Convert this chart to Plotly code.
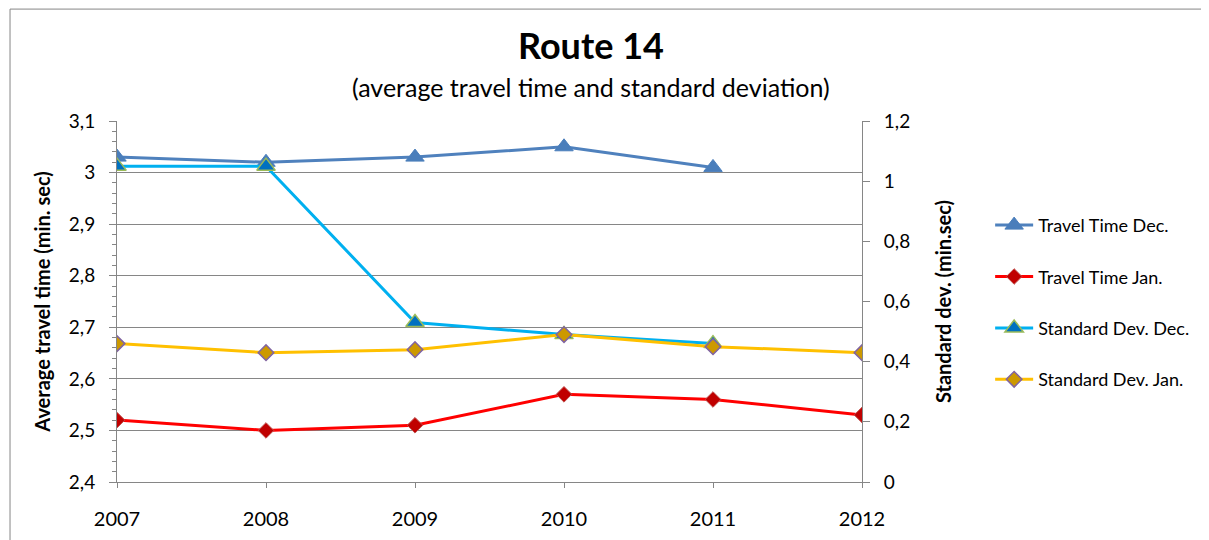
import plotly.graph_objects as go

years = [2007, 2008, 2009, 2010, 2011, 2012]
travel_dec = [3.03, 3.02, 3.03, 3.05, 3.01, None]
travel_jan = [2.52, 2.50, 2.51, 2.57, 2.56, 2.53]
std_dec = [1.05, 1.05, 0.53, 0.49, 0.46, None]
std_jan = [0.46, 0.43, 0.44, 0.49, 0.45, 0.43]

FONT = "Lato"
GRAY = "#868686"

fig = go.Figure()

fig.add_trace(go.Scatter(
    x=years, y=travel_dec, name="Travel Time Dec.", mode="lines+markers",
    line=dict(color="#4F81BD", width=3),
    marker=dict(symbol="triangle-up", size=16, color="#4A7EBB", line=dict(color="#4A7EBB", width=1)),
    legendgroup="a", yaxis="y"))
fig.add_trace(go.Scatter(
    x=years, y=travel_jan, name="Travel Time Jan.", mode="lines+markers",
    line=dict(color="#FF0000", width=3),
    marker=dict(symbol="diamond", size=12, color="#C00000", line=dict(color="#C0504D", width=1)),
    legendgroup="b", yaxis="y"))
fig.add_trace(go.Scatter(
    x=years, y=std_dec, name="Standard Dev. Dec.", mode="lines+markers",
    line=dict(color="#00B0F0", width=3),
    marker=dict(symbol="triangle-up", size=16, color="#0070C0", line=dict(color="#9BBB59", width=1.5)),
    legendgroup="c", yaxis="y2"))
fig.add_trace(go.Scatter(
    x=years, y=std_jan, name="Standard Dev. Jan.", mode="lines+markers",
    line=dict(color="#FFC000", width=3),
    marker=dict(symbol="diamond", size=12, color="#CC9900", line=dict(color="#8064A2", width=1.5)),
    legendgroup="d", yaxis="y2"))

fig.update_layout(
    width=1209, height=540,
    margin=dict(l=109, r=355, t=113, b=66),
    paper_bgcolor="white", plot_bgcolor="white",
    separators=", ",
    font=dict(family=FONT, size=19, color="black"),
    showlegend=True,
    legend=dict(x=1.172, y=0.762, xanchor="left", yanchor="top",
                font=dict(family=FONT, size=18, color="black"),
                itemwidth=38,
                tracegroupgap=25, bgcolor="rgba(0,0,0,0)"),
    xaxis=dict(range=[2007, 2012], tickvals=years, ticktext=[str(y) for y in years],
               showgrid=False, zeroline=False, showline=True, linecolor=GRAY, linewidth=1,
               ticks="outside", ticklen=5, tickcolor=GRAY, tickfont=dict(size=20),
               ticklabelstandoff=14),
    yaxis=dict(range=[2.4, 3.1], dtick=0.1, showgrid=True, gridcolor=GRAY, gridwidth=1,
               zeroline=False, showline=True, linecolor=GRAY, linewidth=1,
               ticks="outside", ticklen=7, tickcolor=GRAY, tickfont=dict(size=19),
               ticklabelstandoff=10,
               minor=dict(dtick=0.02, ticks="outside", ticklen=4, tickcolor=GRAY, showgrid=False),
               title=dict(text="<b>Average travel time (min. sec)</b>", font=dict(size=20), standoff=12)),
    yaxis2=dict(range=[0, 1.2], dtick=0.2, overlaying="y", side="right", showgrid=False,
                zeroline=False, showline=True, linecolor=GRAY, linewidth=1,
                ticks="outside", ticklen=7, tickcolor=GRAY, tickfont=dict(size=19),
                ticklabelstandoff=10,
                title=dict(text="<b>Standard dev. (min.sec)</b>", font=dict(size=20), standoff=27)),
)

fig.add_annotation(text="<b>Route 14</b>", xref="paper", yref="paper",
                   x=0.636, y=1.21, xanchor="center", yanchor="middle", showarrow=False,
                   font=dict(family=FONT, size=36, color="black"))
fig.add_annotation(text="(average travel time and standard deviation)", xref="paper", yref="paper",
                   x=0.636, y=1.094, xanchor="center", yanchor="middle", showarrow=False,
                   font=dict(family=FONT, size=25, color="black"))

# chart frame (top and left edges)
fig.add_shape(type="line", xref="paper", yref="paper", x0=-0.1436, x1=1.47, y0=1.31, y1=1.31,
              line=dict(color=GRAY, width=1))
fig.add_shape(type="line", xref="paper", yref="paper", x0=-0.1436, x1=-0.1436, y0=1.31, y1=-0.17,
              line=dict(color=GRAY, width=1))

fig.write_html("out.html")
